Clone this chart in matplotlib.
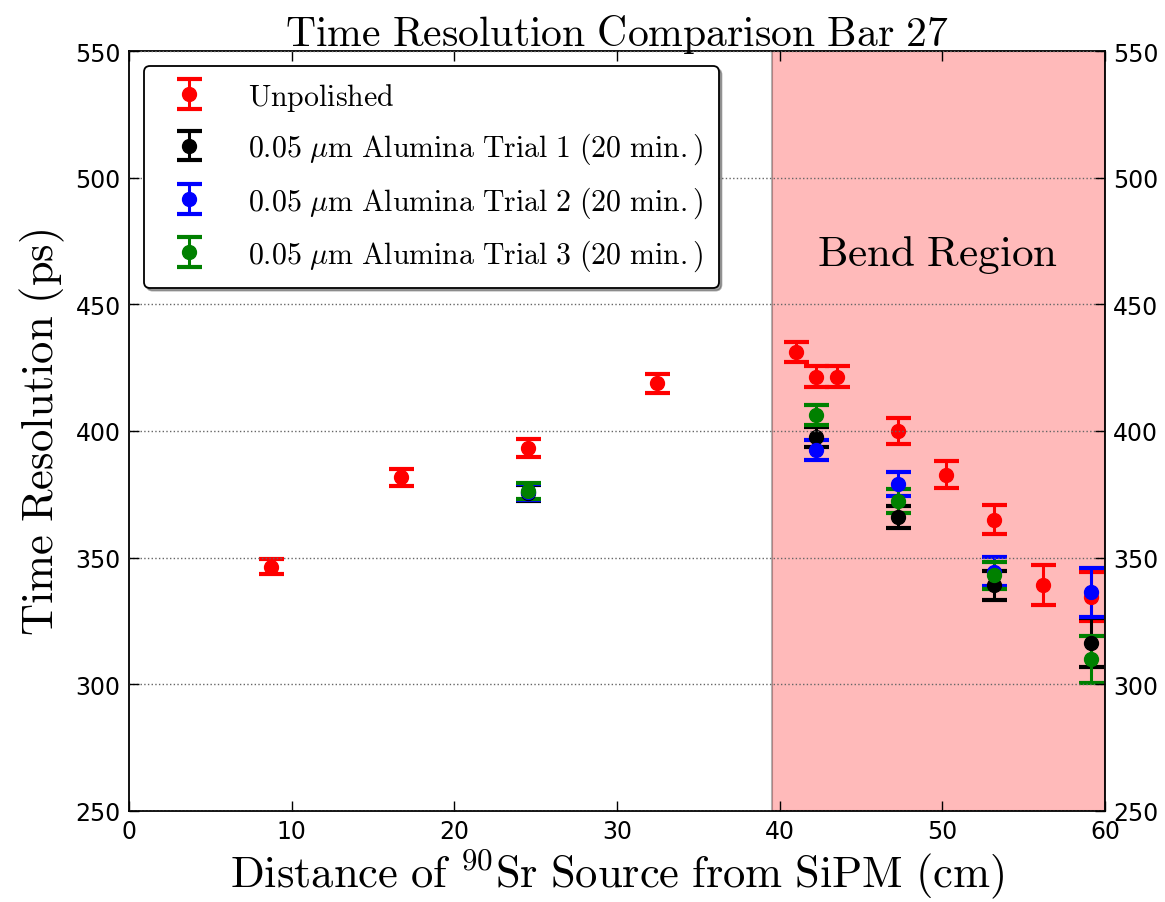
import numpy as np
import matplotlib
matplotlib.use('Agg')
import matplotlib.pyplot as plt

plt.rcParams['mathtext.fontset'] = 'cm'

# -------------------- Data --------------------

x_unpolished = [8.75, 16.7, 24.5, 32.45, 41.0, 42.25, 43.55, 47.25, 50.2, 53.15, 56.2, 59.15]
t_unpolished = [346.5, 381.7, 393.2, 418.8, 431.2, 421.5, 421.5, 400.0, 382.8, 365.0, 339.2, 334.5]
e_unpolished = [3.0, 3.3, 3.5, 3.8, 4.0, 4.0, 4.0, 5.0, 5.3, 5.8, 8.0, 9.7]

x_polished = [24.5, 42.25, 47.25, 53.15, 59.15]

t_trial1 = [375.5, 397.5, 366.0, 339.1, 316.5]
e_trial1 = [3.3, 4.0, 4.4, 5.8, 9.8]

t_trial2 = [376.0, 392.6, 379.1, 344.4, 336.3]
e_trial2 = [3.1, 4.0, 4.6, 5.7, 9.8]

t_trial3 = [376.3, 406.3, 372.4, 343.0, 309.8]
e_trial3 = [3.1, 4.0, 4.6, 5.3, 9.4]

labels = [r'$\mathrm{Unpolished}$',
          r'$\mathrm{0.05\ }\mu\mathrm{m\ Alumina\ Trial\ 1\ (20\ min.)}$',
          r'$\mathrm{0.05\ }\mu\mathrm{m\ Alumina\ Trial\ 2\ (20\ min.)}$',
          r'$\mathrm{0.05\ }\mu\mathrm{m\ Alumina\ Trial\ 3\ (20\ min.)}$']

bend_start, bend_end = 39.5, 60

# -------------------- Plot --------------------

fig = plt.figure(figsize=(11.65, 9.03), dpi=100)
ax = fig.add_axes([0.1107, 0.1008, 0.8378, 0.8416])

ax.axvspan(bend_start, bend_end, facecolor=(1, 0, 0, 0.27),
           edgecolor=(0, 0, 0, 0.3), linewidth=1.5, zorder=0)

style = dict(fmt='o', markersize=10, elinewidth=2.2, capsize=9, capthick=3)
series = [(x_unpolished, t_unpolished, e_unpolished, 'r'),
          (x_polished, t_trial1, e_trial1, 'k'),
          (x_polished, t_trial2, e_trial2, 'b'),
          (x_polished, t_trial3, e_trial3, 'g')]
for (xs, ts, es, c), lab in zip(series, labels):
    ax.errorbar(xs, ts, yerr=es, color=c, ecolor=c, label=lab, **style)

ax.text(49.7, 470, r'$\mathrm{Bend\ Region}$', fontsize=31, ha='center', va='center')

ax.set_xlim(0, 60)
ax.set_ylim(250, 550)
ax.set_xticks(np.arange(0, 61, 10))
ax.set_yticks(np.arange(250, 551, 50))
ax.yaxis.grid(True, linestyle=':', color='0.4', linewidth=1)
ax.set_axisbelow(False)
ax.tick_params(direction='in', top=True, right=True, labelright=True,
               labelsize=17, length=7, width=1, pad=6)
for s in ax.spines.values():
    s.set_linewidth(1.3)

ax.set_title(r'$\mathrm{Time\ Resolution\ Comparison\ Bar\ 27}$', fontsize=30, pad=4)
ax.set_xlabel(r'$\mathrm{Distance\ of\ }^{90}\mathrm{Sr\ Source\ from\ SiPM\ (cm)}$',
              fontsize=32, labelpad=2)
ax.set_ylabel(r'$\mathrm{Time\ Resolution\ (ps)}$', fontsize=32, labelpad=6)

leg = ax.legend(loc='upper left', fontsize=21.5, fancybox=True, shadow=True,
                numpoints=1, handlelength=2.0, handletextpad=1.0,
                borderpad=0.5, labelspacing=0.6, framealpha=1,
                borderaxespad=0.5)
leg.get_frame().set_edgecolor('black')
leg.get_frame().set_linewidth(1.3)

fig.savefig('out.png', dpi=100)
